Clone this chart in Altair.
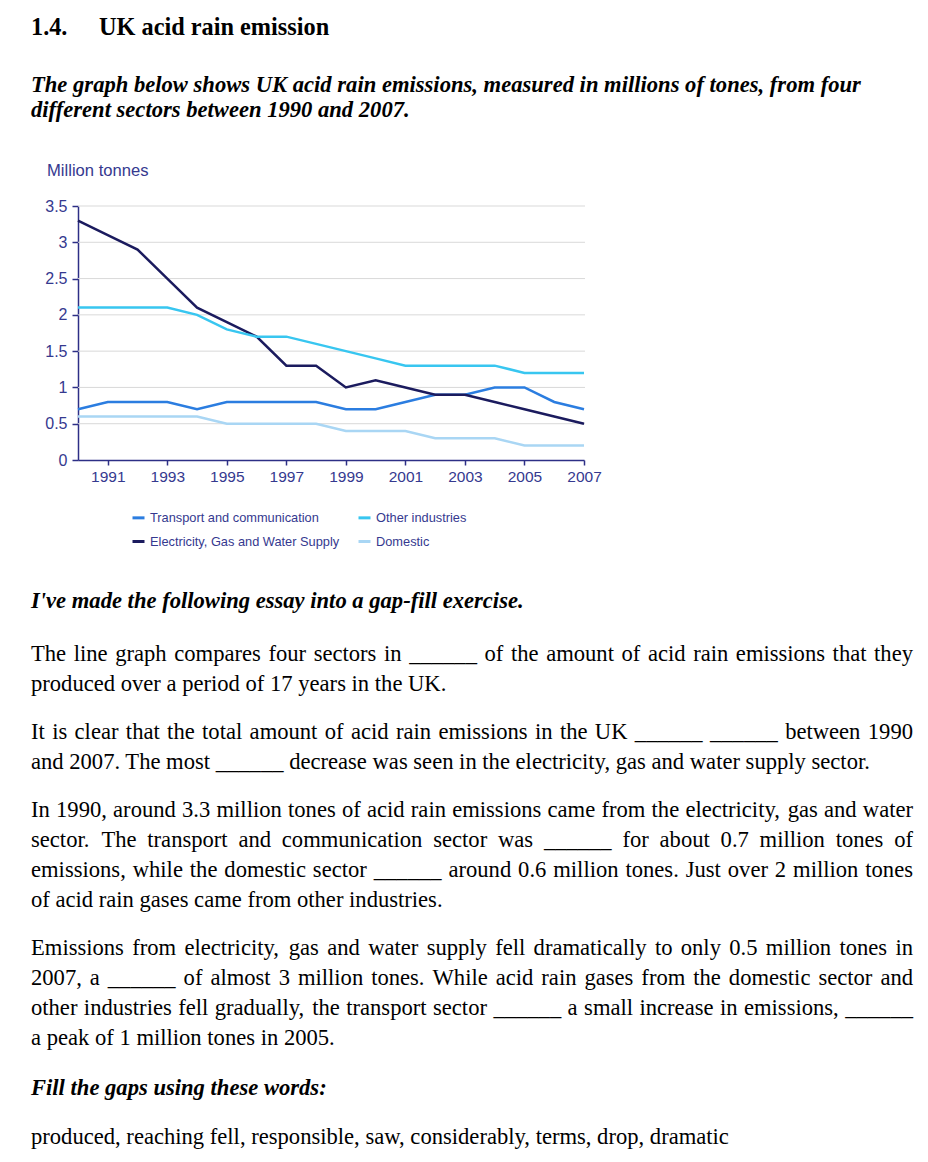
import altair as alt
import pandas as pd

# ---------------- chart data ----------------
years = list(range(1990, 2008))
transport = [0.7, 0.8, 0.8, 0.8, 0.7, 0.8, 0.8, 0.8, 0.8, 0.7, 0.7, 0.8, 0.9, 0.9, 1.0, 1.0, 0.8, 0.7]
electricity = [3.3, 3.1, 2.9, 2.5, 2.1, 1.9, 1.7, 1.3, 1.3, 1.0, 1.1, 1.0, 0.9, 0.9, 0.8, 0.7, 0.6, 0.5]
other = [2.1, 2.1, 2.1, 2.1, 2.0, 1.8, 1.7, 1.7, 1.6, 1.5, 1.4, 1.3, 1.3, 1.3, 1.3, 1.2, 1.2, 1.2]
domestic = [0.6, 0.6, 0.6, 0.6, 0.6, 0.5, 0.5, 0.5, 0.5, 0.4, 0.4, 0.4, 0.3, 0.3, 0.3, 0.2, 0.2, 0.2]

# legend fills column by column: column 1 = first two, column 2 = last two
sectors = ["Transport and communication", "Electricity, Gas and Water Supply",
           "Other industries", "Domestic"]
colors = ["#2b7de0", "#1b1b5e", "#38c6f0", "#a9d6f4"]

x_ticks = [1991, 1993, 1995, 1997, 1999, 2001, 2003, 2005, 2007]
y_ticks = [0, 0.5, 1, 1.5, 2, 2.5, 3, 3.5]

# ---------------- page text ----------------
title_num = "1.4."
title_text = "UK acid rain emission"
intro_lines = ["The graph below shows UK acid rain emissions, measured in millions of tones, from four",
               "different sectors between 1990 and 2007."]
y_label = "Million tonnes"
exercise_head = "I've made the following essay into a gap-fill exercise."
fill_head = "Fill the gaps using these words:"
body_text = [
    "The line graph compares four sectors in ______ of the amount of acid rain emissions that they",
    "produced over a period of 17 years in the UK.",
    "It is clear that the total amount of acid rain emissions in the UK ______ ______ between 1990",
    "and 2007. The most ______ decrease was seen in the electricity, gas and water supply sector.",
    "In 1990, around 3.3 million tones of acid rain emissions came from the electricity, gas and water",
    "sector. The transport and communication sector was ______ for about 0.7 million tones of",
    "emissions, while the domestic sector ______ around 0.6 million tones. Just over 2 million tones",
    "of acid rain gases came from other industries.",
    "Emissions from electricity, gas and water supply fell dramatically to only 0.5 million tones in",
    "2007, a ______ of almost 3 million tones. While acid rain gases from the domestic sector and",
    "other industries fell gradually, the transport sector ______ a small increase in emissions, ______",
    "a peak of 1 million tones in 2005.",
    "produced, reaching fell, responsible, saw, considerably, terms, drop, dramatic",
]

# ---------------- layout (page coords minus 8px margin) ----------------
body_just = [True, False, True, False, True, True, True, False, True, True, True, False, False]
body_base = [661, 691, 739, 769, 817, 847, 877, 907, 955, 985, 1015, 1045, 1144]
FS = 22.6
LEFT, RIGHT = 23, 905
NAVY = "#2d2f86"
LABEL = "#35398f"

# Times-compatible advance widths (per 1000 em)
W = {" ": 250, ".": 250, ",": 250, "_": 500, "-": 333, ":": 278, "'": 180}
W.update({c: 500 for c in "0123456789"})
W.update(dict(zip("abcdefghijklmnopqrstuvwxyz",
                  [444, 500, 444, 500, 444, 333, 500, 500, 278, 278, 500, 278, 778,
                   500, 500, 500, 500, 333, 389, 278, 500, 500, 722, 500, 500, 444])))
W.update(dict(zip("ABCDEFGHIJKLMNOPQRSTUVWXYZ",
                  [722, 667, 667, 722, 611, 556, 722, 722, 333, 389, 722, 611, 889,
                   722, 722, 556, 722, 667, 556, 611, 722, 722, 944, 722, 722, 611])))


def tw(s):
    return sum(W.get(c, 500) for c in s) * FS / 1000.0


rows_left, rows_right = [], []
for text, just, base in zip(body_text, body_just, body_base):
    yy = base - 8
    if just:
        words = text.split(" ")
        ws = [tw(w) for w in words]
        gap = (RIGHT - LEFT - sum(ws)) / (len(words) - 1)
        xx = LEFT
        for w, wd in zip(words[:-1], ws[:-1]):
            rows_left.append({"t": w, "px": xx, "py": yy})
            xx += wd + gap
        rows_right.append({"t": words[-1], "px": RIGHT, "py": yy})
    else:
        rows_left.append({"t": text, "px": LEFT, "py": yy})

df_left = pd.DataFrame(rows_left)
df_right = pd.DataFrame(rows_right)
df_title = pd.DataFrame({"t": [title_num, title_text], "px": [23, 91], "py": [27, 27]})
df_bi = pd.DataFrame({"t": intro_lines + [exercise_head, fill_head],
                      "px": [23, 23, 23, 23], "py": [84, 109, 600, 1087]})


def text_layer(df, **mk):
    return alt.Chart(df).mark_text(align=mk.pop("align", "left"), baseline="alphabetic",
                                   font="Liberation Serif", color="black", **mk).encode(
        x=alt.X("px:Q", scale=None, axis=None),
        y=alt.Y("py:Q", scale=None, axis=None),
        text="t:N",
    )


# ---------------- line chart ----------------
df = pd.DataFrame({
    "year": years * 4,
    "value": transport + electricity + other + domestic,
    "sector": [sectors[0]] * 18 + [sectors[1]] * 18 + [sectors[2]] * 18 + [sectors[3]] * 18,
})

xs = alt.Scale(domain=[1990, 2007], range=[70, 576], nice=False, zero=False)
ys = alt.Scale(domain=[0, 3.5], range=[452, 198], nice=False, zero=False)

y_axis = alt.Axis(
    values=y_ticks, format="~g", title=None, offset=-70, grid=False,
    domainColor=NAVY, domainWidth=1.5, tickColor=NAVY, tickWidth=1.5, tickSize=6,
    labelColor=LABEL, labelFont="Liberation Sans", labelFontSize=16, labelPadding=5,
    labelFlush=False, labelOverlap=False)

grid = alt.Chart(pd.DataFrame({"value": y_ticks[1:]})).mark_rule(color="#d9d9d9", strokeWidth=1).encode(
    y=alt.Y("value:Q", scale=ys, axis=y_axis),
    x=alt.value(70),
    x2=alt.value(577),
)

lines = alt.Chart(df).mark_line(strokeWidth=2.5).encode(
    x=alt.X("year:Q", scale=xs, axis=alt.Axis(
        values=x_ticks, format="d", title=None, offset=-694, grid=False,
        domainColor=NAVY, domainWidth=1.5, tickColor=NAVY, tickWidth=1.5, tickSize=5,
        labelColor=LABEL, labelFont="Liberation Sans", labelFontSize=15.5, labelPadding=4,
        labelFlush=False, labelOverlap=False)),
    y=alt.Y("value:Q", scale=ys, axis=y_axis),
    color=alt.Color("sector:N", scale=alt.Scale(domain=sectors, range=colors),
                    legend=alt.Legend(title=None, orient="none", legendX=123, legendY=502,
                                      columns=2, symbolType="stroke", symbolSize=144,
                                      symbolStrokeWidth=3, labelFont="Liberation Sans",
                                      labelFontSize=12.8, labelColor=LABEL, labelOffset=4,
                                      labelLimit=300, columnPadding=12, rowPadding=9,
                                      padding=0)),
    order=alt.Order("year:Q"),
)

million = alt.Chart(pd.DataFrame({"t": [y_label]})).mark_text(
    align="left", baseline="alphabetic", font="Liberation Sans", fontSize=16.6, color=LABEL
).encode(x=alt.value(39), y=alt.value(168), text="t:N")

chart = alt.layer(
    alt.layer(grid, lines),
    million,
    text_layer(df_title, fontSize=24.3, fontWeight="bold"),
    text_layer(df_bi, fontSize=FS, fontWeight="bold", fontStyle="italic"),
    text_layer(df_left, fontSize=FS),
    text_layer(df_right, fontSize=FS, align="right"),
).resolve_scale(x="independent", y="independent").properties(
    width=912, height=1146, padding=0, autosize=alt.AutoSizeParams(type="none"),
    background="white",
).configure_view(stroke=None)

chart.save("out.html", embed_options={"renderer": "svg", "actions": False})
